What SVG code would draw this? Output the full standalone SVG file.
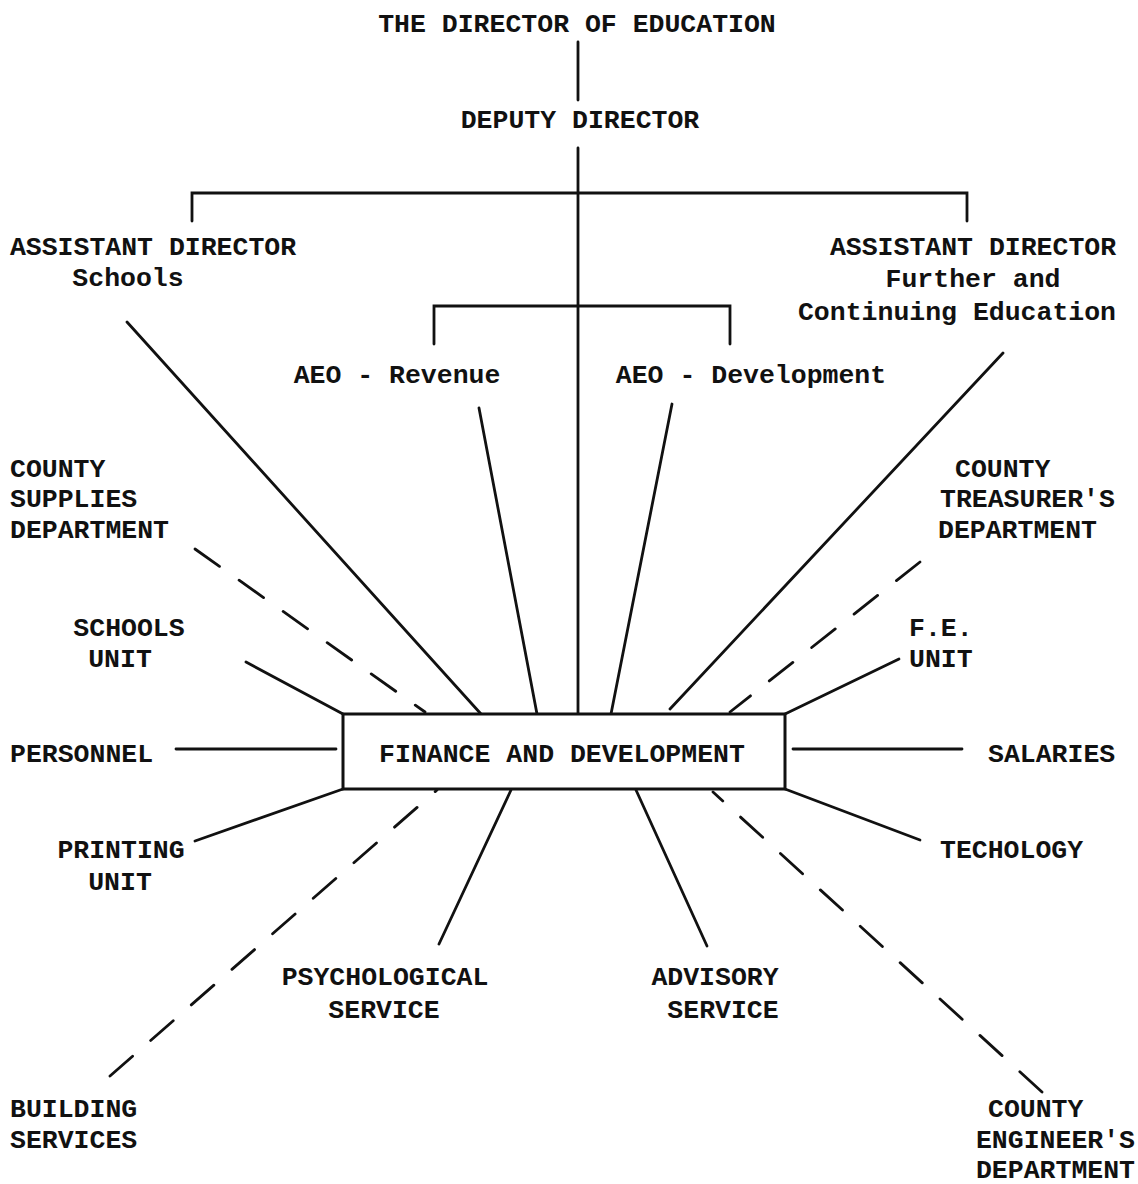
<svg xmlns="http://www.w3.org/2000/svg" width="1138" height="1184" viewBox="0 0 1138 1184">
<style>
text{font-family:"Liberation Mono","Courier New",monospace;font-size:26.5px;font-weight:bold;fill:#111}
.c{text-anchor:middle}
.e{text-anchor:end}
.ln{stroke:#111;stroke-width:2.8;fill:none;stroke-linecap:round}
.ds{stroke:#111;stroke-width:2.8;fill:none;stroke-dasharray:30 24;stroke-linecap:round}
.box{fill:#fff;stroke:#111;stroke-width:3}
</style>
<rect width="1138" height="1184" fill="#fff"/>
<g id="connectors">
<line class="ln" x1="578" y1="42" x2="578" y2="100"/>
<line class="ln" x1="578" y1="148" x2="578" y2="714"/>
<polyline class="ln" points="192,221 192,193 967,193 967,221"/>
<polyline class="ln" points="434,344 434,306 730,306 730,344"/>
<line class="ln" x1="127" y1="322" x2="481" y2="714"/>
<line class="ln" x1="479" y1="408" x2="537" y2="714"/>
<line class="ln" x1="672" y1="404" x2="611" y2="714"/>
<line class="ln" x1="1003" y1="353" x2="670" y2="709"/>
<line class="ln" x1="246" y1="662" x2="343" y2="714"/>
<line class="ln" x1="899" y1="659" x2="785" y2="714"/>
<line class="ln" x1="176" y1="749" x2="336" y2="749"/>
<line class="ln" x1="793" y1="749" x2="962" y2="749"/>
<line class="ln" x1="195" y1="841" x2="343" y2="789"/>
<line class="ln" x1="920" y1="840" x2="785" y2="789"/>
<line class="ln" x1="439" y1="944" x2="511" y2="790"/>
<line class="ln" x1="707" y1="946" x2="636" y2="790"/>
<line class="ds" x1="195" y1="549" x2="425" y2="712"/>
<line class="ds" x1="920" y1="562" x2="730" y2="712"/>
<line class="ds" x1="110" y1="1076" x2="437" y2="790"/>
<line class="ds" x1="1042" y1="1092" x2="713" y2="792"/>
</g>
<g id="director"><text class="c" x="577" y="32">THE DIRECTOR OF EDUCATION</text></g>
<g id="deputy"><text class="c" x="580" y="128">DEPUTY DIRECTOR</text></g>
<g id="ad-schools"><text class="c" x="153" y="255">ASSISTANT DIRECTOR</text><text class="c" x="128" y="286">Schools</text></g>
<g id="ad-further"><text class="c" x="973" y="255">ASSISTANT DIRECTOR</text><text class="c" x="973" y="287">Further and</text><text class="c" x="957" y="320">Continuing Education</text></g>
<g id="aeo-revenue"><text class="c" x="397" y="383">AEO - Revenue</text></g>
<g id="aeo-development"><text class="c" x="751" y="383">AEO - Development</text></g>
<g id="county-supplies"><text x="10" y="477">COUNTY</text><text x="10" y="507">SUPPLIES</text><text x="10" y="538">DEPARTMENT</text></g>
<g id="county-treasurer"><text x="955" y="477">COUNTY</text><text x="940" y="507">TREASURER'S</text><text x="938" y="538">DEPARTMENT</text></g>
<g id="schools-unit"><text class="c" x="129" y="636">SCHOOLS</text><text class="c" x="120" y="667">UNIT</text></g>
<g id="fe-unit"><text x="909" y="636">F.E.</text><text x="909" y="667">UNIT</text></g>
<g id="personnel"><text x="10" y="762">PERSONNEL</text></g>
<g id="salaries"><text x="988" y="762">SALARIES</text></g>
<g id="finance"><rect class="box" x="343" y="714" width="442" height="75"/><text class="c" x="562" y="762">FINANCE AND DEVELOPMENT</text></g>
<g id="printing"><text class="c" x="121" y="858">PRINTING</text><text class="c" x="120" y="890">UNIT</text></g>
<g id="techology"><text x="940" y="858">TECHOLOGY</text></g>
<g id="psychological"><text class="c" x="385" y="985">PSYCHOLOGICAL</text><text class="c" x="384" y="1018">SERVICE</text></g>
<g id="advisory"><text class="c" x="715" y="985">ADVISORY</text><text class="c" x="723" y="1018">SERVICE</text></g>
<g id="building"><text x="10" y="1117">BUILDING</text><text x="10" y="1148">SERVICES</text></g>
<g id="county-engineer"><text x="988" y="1117">COUNTY</text><text class="e" x="1135" y="1148">ENGINEER'S</text><text class="e" x="1135" y="1178">DEPARTMENT</text></g>
</svg>
